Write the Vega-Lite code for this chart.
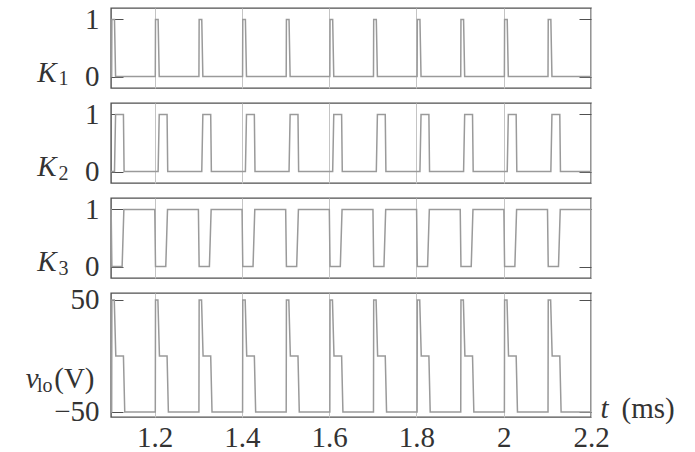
{
  "$schema": "https://vega.github.io/schema/vega-lite/v6.json",
  "background": "white",
  "padding": {"left": 24, "top": 4, "right": 5, "bottom": 5},
  "spacing": 15,
  "bounds": "flush",
  "datasets": {
    "k1": [
      {"t":1.1,"v":0},
      {"t":1.1015,"v":0},{"t":1.102,"v":1},{"t":1.108,"v":1},{"t":1.1105,"v":0},
      {"t":1.2015,"v":0},{"t":1.202,"v":1},{"t":1.208,"v":1},{"t":1.2105,"v":0},
      {"t":1.3015,"v":0},{"t":1.302,"v":1},{"t":1.308,"v":1},{"t":1.3105,"v":0},
      {"t":1.4015,"v":0},{"t":1.402,"v":1},{"t":1.408,"v":1},{"t":1.4105,"v":0},
      {"t":1.5015,"v":0},{"t":1.502,"v":1},{"t":1.508,"v":1},{"t":1.5105,"v":0},
      {"t":1.6015,"v":0},{"t":1.602,"v":1},{"t":1.608,"v":1},{"t":1.6105,"v":0},
      {"t":1.7015,"v":0},{"t":1.702,"v":1},{"t":1.708,"v":1},{"t":1.7105,"v":0},
      {"t":1.8015,"v":0},{"t":1.802,"v":1},{"t":1.808,"v":1},{"t":1.8105,"v":0},
      {"t":1.9015,"v":0},{"t":1.902,"v":1},{"t":1.908,"v":1},{"t":1.9105,"v":0},
      {"t":2.0015,"v":0},{"t":2.002,"v":1},{"t":2.008,"v":1},{"t":2.0105,"v":0},
      {"t":2.1015,"v":0},{"t":2.102,"v":1},{"t":2.108,"v":1},{"t":2.1105,"v":0},
      {"t":2.2,"v":0}
    ],
    "k2": [
      {"t":1.1,"v":0},
      {"t":1.108,"v":0},{"t":1.1105,"v":1},{"t":1.1285,"v":1},{"t":1.13,"v":0},
      {"t":1.208,"v":0},{"t":1.2105,"v":1},{"t":1.2285,"v":1},{"t":1.23,"v":0},
      {"t":1.308,"v":0},{"t":1.3105,"v":1},{"t":1.3285,"v":1},{"t":1.33,"v":0},
      {"t":1.408,"v":0},{"t":1.4105,"v":1},{"t":1.4285,"v":1},{"t":1.43,"v":0},
      {"t":1.508,"v":0},{"t":1.5105,"v":1},{"t":1.5285,"v":1},{"t":1.53,"v":0},
      {"t":1.608,"v":0},{"t":1.6105,"v":1},{"t":1.6285,"v":1},{"t":1.63,"v":0},
      {"t":1.708,"v":0},{"t":1.7105,"v":1},{"t":1.7285,"v":1},{"t":1.73,"v":0},
      {"t":1.808,"v":0},{"t":1.8105,"v":1},{"t":1.8285,"v":1},{"t":1.83,"v":0},
      {"t":1.908,"v":0},{"t":1.9105,"v":1},{"t":1.9285,"v":1},{"t":1.93,"v":0},
      {"t":2.008,"v":0},{"t":2.0105,"v":1},{"t":2.0285,"v":1},{"t":2.03,"v":0},
      {"t":2.108,"v":0},{"t":2.1105,"v":1},{"t":2.1285,"v":1},{"t":2.13,"v":0},
      {"t":2.2,"v":0}
    ],
    "k3": [
      {"t":1.1,"v":1},
      {"t":1.1003,"v":1},{"t":1.102,"v":0},{"t":1.1255,"v":0},{"t":1.1295,"v":1},
      {"t":1.2003,"v":1},{"t":1.202,"v":0},{"t":1.2255,"v":0},{"t":1.2295,"v":1},
      {"t":1.3003,"v":1},{"t":1.302,"v":0},{"t":1.3255,"v":0},{"t":1.3295,"v":1},
      {"t":1.4003,"v":1},{"t":1.402,"v":0},{"t":1.4255,"v":0},{"t":1.4295,"v":1},
      {"t":1.5003,"v":1},{"t":1.502,"v":0},{"t":1.5255,"v":0},{"t":1.5295,"v":1},
      {"t":1.6003,"v":1},{"t":1.602,"v":0},{"t":1.6255,"v":0},{"t":1.6295,"v":1},
      {"t":1.7003,"v":1},{"t":1.702,"v":0},{"t":1.7255,"v":0},{"t":1.7295,"v":1},
      {"t":1.8003,"v":1},{"t":1.802,"v":0},{"t":1.8255,"v":0},{"t":1.8295,"v":1},
      {"t":1.9003,"v":1},{"t":1.902,"v":0},{"t":1.9255,"v":0},{"t":1.9295,"v":1},
      {"t":2.0003,"v":1},{"t":2.002,"v":0},{"t":2.0255,"v":0},{"t":2.0295,"v":1},
      {"t":2.1003,"v":1},{"t":2.102,"v":0},{"t":2.1255,"v":0},{"t":2.1295,"v":1},
      {"t":2.2,"v":1}
    ],
    "vlo": [
      {"t":1.1,"v":-50},
      {"t":1.1015,"v":-50},{"t":1.102,"v":50},{"t":1.1075,"v":50},{"t":1.111,"v":0},{"t":1.1285,"v":0},{"t":1.1315,"v":-50},
      {"t":1.2015,"v":-50},{"t":1.202,"v":50},{"t":1.2075,"v":50},{"t":1.211,"v":0},{"t":1.2285,"v":0},{"t":1.2315,"v":-50},
      {"t":1.3015,"v":-50},{"t":1.302,"v":50},{"t":1.3075,"v":50},{"t":1.311,"v":0},{"t":1.3285,"v":0},{"t":1.3315,"v":-50},
      {"t":1.4015,"v":-50},{"t":1.402,"v":50},{"t":1.4075,"v":50},{"t":1.411,"v":0},{"t":1.4285,"v":0},{"t":1.4315,"v":-50},
      {"t":1.5015,"v":-50},{"t":1.502,"v":50},{"t":1.5075,"v":50},{"t":1.511,"v":0},{"t":1.5285,"v":0},{"t":1.5315,"v":-50},
      {"t":1.6015,"v":-50},{"t":1.602,"v":50},{"t":1.6075,"v":50},{"t":1.611,"v":0},{"t":1.6285,"v":0},{"t":1.6315,"v":-50},
      {"t":1.7015,"v":-50},{"t":1.702,"v":50},{"t":1.7075,"v":50},{"t":1.711,"v":0},{"t":1.7285,"v":0},{"t":1.7315,"v":-50},
      {"t":1.8015,"v":-50},{"t":1.802,"v":50},{"t":1.8075,"v":50},{"t":1.811,"v":0},{"t":1.8285,"v":0},{"t":1.8315,"v":-50},
      {"t":1.9015,"v":-50},{"t":1.902,"v":50},{"t":1.9075,"v":50},{"t":1.911,"v":0},{"t":1.9285,"v":0},{"t":1.9315,"v":-50},
      {"t":2.0015,"v":-50},{"t":2.002,"v":50},{"t":2.0075,"v":50},{"t":2.011,"v":0},{"t":2.0285,"v":0},{"t":2.0315,"v":-50},
      {"t":2.1015,"v":-50},{"t":2.102,"v":50},{"t":2.1075,"v":50},{"t":2.111,"v":0},{"t":2.1285,"v":0},{"t":2.1315,"v":-50},
      {"t":2.2,"v":-50}
    ]
  },
  "vconcat": [
    {
      "width": 480, "height": 80,
      "data": {"name": "k1"},
      "layer": [
        {"mark": {"type": "line", "color": "#9a9a9a", "strokeWidth": 1.5},
         "encoding": {
           "x": {"field": "t", "type": "quantitative", "scale": {"domain": [1.1, 2.2], "nice": false, "zero": false},
                 "axis": {"values": [1.2, 1.4, 1.6, 1.8, 2, 2.2], "grid": true, "labels": false, "ticks": false, "domain": false, "title": null}},
           "y": {"field": "v", "type": "quantitative", "scale": {"domain": [-0.2, 1.2], "nice": false, "zero": false},
                 "axis": {"values": [0, 1], "format": "d", "grid": false, "domain": false, "tickSize": -12, "labelPadding": 24, "title": "K", "titleFontStyle": "italic", "titleAngle": 0, "titleX": -55, "titleY": 73, "titleAlign": "right", "titleBaseline": "alphabetic"}}
         }},
        {"mark": {"type": "line", "opacity": 0},
         "encoding": {
           "x": {"field": "t", "type": "quantitative", "axis": null},
           "y": {"field": "v", "type": "quantitative", "axis": {"orient": "right", "values": [0, 1], "labels": false, "grid": false, "domain": false, "tickSize": -12, "title": "1", "titleFontSize": 20, "titleAngle": 0, "titleX": -523, "titleY": 76, "titleAlign": "right", "titleBaseline": "alphabetic"}}
         }}
      ],
      "resolve": {"axis": {"x": "independent", "y": "independent"}}
    },
    {
      "width": 480, "height": 80,
      "data": {"name": "k2"},
      "layer": [
        {"mark": {"type": "line", "color": "#9a9a9a", "strokeWidth": 1.5},
         "encoding": {
           "x": {"field": "t", "type": "quantitative", "scale": {"domain": [1.1, 2.2], "nice": false, "zero": false},
                 "axis": {"values": [1.2, 1.4, 1.6, 1.8, 2, 2.2], "grid": true, "labels": false, "ticks": false, "domain": false, "title": null}},
           "y": {"field": "v", "type": "quantitative", "scale": {"domain": [-0.2, 1.2], "nice": false, "zero": false},
                 "axis": {"values": [0, 1], "format": "d", "grid": false, "domain": false, "tickSize": -12, "labelPadding": 24, "title": "K", "titleFontStyle": "italic", "titleAngle": 0, "titleX": -55, "titleY": 72, "titleAlign": "right", "titleBaseline": "alphabetic"}}
         }},
        {"mark": {"type": "line", "opacity": 0},
         "encoding": {
           "x": {"field": "t", "type": "quantitative", "axis": null},
           "y": {"field": "v", "type": "quantitative", "axis": {"orient": "right", "values": [0, 1], "labels": false, "grid": false, "domain": false, "tickSize": -12, "title": "2", "titleFontSize": 20, "titleAngle": 0, "titleX": -523, "titleY": 76, "titleAlign": "right", "titleBaseline": "alphabetic"}}
         }}
      ],
      "resolve": {"axis": {"x": "independent", "y": "independent"}}
    },
    {
      "width": 480, "height": 80,
      "data": {"name": "k3"},
      "layer": [
        {"mark": {"type": "line", "color": "#9a9a9a", "strokeWidth": 1.5},
         "encoding": {
           "x": {"field": "t", "type": "quantitative", "scale": {"domain": [1.1, 2.2], "nice": false, "zero": false},
                 "axis": {"values": [1.2, 1.4, 1.6, 1.8, 2, 2.2], "grid": true, "labels": false, "ticks": false, "domain": false, "title": null}},
           "y": {"field": "v", "type": "quantitative", "scale": {"domain": [-0.2, 1.2], "nice": false, "zero": false},
                 "axis": {"values": [0, 1], "format": "d", "grid": false, "domain": false, "tickSize": -12, "labelPadding": 24, "title": "K", "titleFontStyle": "italic", "titleAngle": 0, "titleX": -55, "titleY": 72, "titleAlign": "right", "titleBaseline": "alphabetic"}}
         }},
        {"mark": {"type": "line", "opacity": 0},
         "encoding": {
           "x": {"field": "t", "type": "quantitative", "axis": null},
           "y": {"field": "v", "type": "quantitative", "axis": {"orient": "right", "values": [0, 1], "labels": false, "grid": false, "domain": false, "tickSize": -12, "title": "3", "titleFontSize": 20, "titleAngle": 0, "titleX": -523, "titleY": 76, "titleAlign": "right", "titleBaseline": "alphabetic"}}
         }}
      ],
      "resolve": {"axis": {"x": "independent", "y": "independent"}}
    },
    {
      "width": 480, "height": 124,
      "data": {"name": "vlo"},
      "layer": [
        {"mark": {"type": "line", "color": "#9a9a9a", "strokeWidth": 1.5},
         "encoding": {
           "x": {"field": "t", "type": "quantitative", "scale": {"domain": [1.1, 2.2], "nice": false, "zero": false},
                 "axis": {"values": [1.2, 1.4, 1.6, 1.8, 2, 2.2], "format": "~g", "grid": true, "labels": true, "ticks": false, "tickSize": 0, "labelPadding": 6, "domain": false, "labelFlush": false,
                          "title": "(ms)", "titleX": 510, "titleY": 0, "titleAlign": "left", "titleBaseline": "alphabetic"}},
           "y": {"field": "v", "type": "quantitative", "scale": {"domain": [-54.5, 56.2], "nice": false, "zero": false},
                 "axis": {"values": [-50, 50], "format": "d", "grid": false, "domain": false, "tickSize": -12, "labelPadding": 24, "title": "(V)", "titleAngle": 0, "titleX": -17, "titleY": 94, "titleAlign": "right", "titleBaseline": "alphabetic"}}
         }},
        {"mark": {"type": "line", "opacity": 0},
         "encoding": {
           "x": {"field": "t", "type": "quantitative",
                 "axis": {"orient": "top", "labels": false, "ticks": false, "grid": false, "domain": false, "title": "t", "titleFontStyle": "italic", "titleX": 489, "titleY": 124, "titleAlign": "left", "titleBaseline": "alphabetic"}},
           "y": {"field": "v", "type": "quantitative", "axis": {"orient": "right", "values": [-50, 50], "labels": false, "grid": false, "domain": false, "tickSize": -12, "title": "v", "titleFontStyle": "italic", "titleAngle": 0, "titleX": -553, "titleY": 94, "titleAlign": "right", "titleBaseline": "alphabetic"}}
         }},
        {"mark": {"type": "line", "opacity": 0},
         "encoding": {
           "x": {"field": "t", "type": "quantitative", "axis": null},
           "y": {"field": "v", "type": "quantitative", "axis": {"orient": "left", "labels": false, "ticks": false, "grid": false, "domain": false, "title": "lo", "titleFontSize": 20, "titleAngle": 0, "titleX": -59, "titleY": 98, "titleAlign": "right", "titleBaseline": "alphabetic"}}
         }}
      ],
      "resolve": {"axis": {"x": "independent", "y": "independent"}}
    }
  ],
  "config": {
    "font": "Liberation Serif",
    "view": {"stroke": "#505050", "strokeWidth": 1.4},
    "axis": {
      "labelFont": "Liberation Serif", "titleFont": "Liberation Serif",
      "labelFontSize": 29, "titleFontSize": 29,
      "labelColor": "#333333", "titleColor": "#333333", "titleFontWeight": "normal",
      "gridColor": "#c4c4c4", "gridWidth": 1,
      "tickColor": "#505050", "tickWidth": 1
    }
  }
}
